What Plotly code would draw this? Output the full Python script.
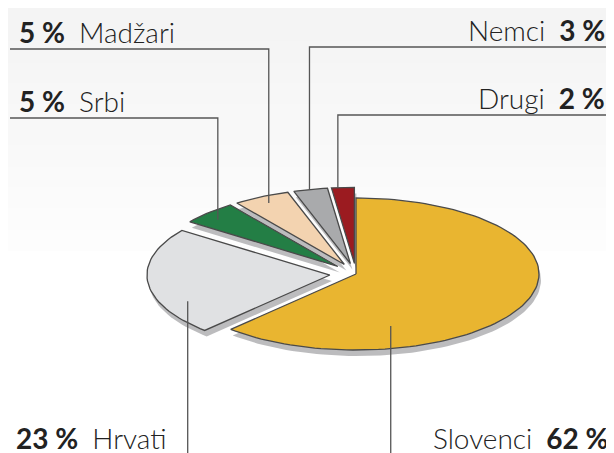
import math
import plotly.graph_objects as go

# ---- data ----
labels = ["Slovenci", "Hrvati", "Srbi", "Madžari", "Nemci", "Drugi"]
values = [62, 23, 5, 5, 3, 2]
colors = ["#E9B530", "#E0E1E3", "#237E45", "#F3D3B0", "#A9AAAC", "#9B1B20"]

# ---- style / layout params ----
W, H = 614, 453
OFF = 8  # page body margin compensation
CX, CY, RX, RY = 356, 274, 183, 76
explode = [0.0, 0.143, 0.14, 0.14, 0.14, 0.14]
label_side = ["right", "left", "left", "left", "right", "right"]
label_line_y = [None, None, 118, 49, 47, 115]
leader_ang_frac = [0.737, 0.277, 0.40, 0.50, 0.47, 0.28]
leader_r = [0.71, 0.85, 0.90, 0.91, 1.0, 1.0]
FONT = "Lato"
FS = 28

total = sum(values)
fig = go.Figure()

# background gradient bands
n_bands = 12
for i in range(n_bands):
    g = int(244 + (253 - 244) * i / (n_bands - 1))
    fig.add_shape(type="rect", x0=0, x1=W, y0=i * 250 / n_bands, y1=(i + 1) * 250 / n_bands + 1,
                  fillcolor=f"rgb({g},{g},{g})", line_width=0, layer="below")

def pt(cx, cy, a_deg, r=1.0):
    a = math.radians(a_deg)
    return cx + RX * r * math.sin(a), cy - RY * r * math.cos(a)

slices = []
start = 0.0
for lab, v, e in zip(labels, values, explode):
    span = 360.0 * v / total
    mid = start + span / 2
    ox = RX * e * math.sin(math.radians(mid))
    oy = -RY * e * math.cos(math.radians(mid))
    cx, cy = CX + ox, CY + oy
    n = max(8, int(span / 2))
    xs, ys = [cx], [cy]
    for k in range(n + 1):
        x, y = pt(cx, cy, start + span * k / n)
        xs.append(x); ys.append(y)
    xs.append(cx); ys.append(cy)
    slices.append((xs, ys, cx, cy, start, span))
    start += span

# shadows
for xs, ys, *_ in slices:
    fig.add_trace(go.Scatter(x=[x + 2 for x in xs], y=[y + 6 for y in ys], mode="lines",
                             fill="toself", fillcolor="rgba(160,160,162,0.7)",
                             line=dict(width=0), hoverinfo="skip", showlegend=False))
# slices
for (xs, ys, *_), c, lab in zip(slices, colors, labels):
    fig.add_trace(go.Scatter(x=xs, y=ys, mode="lines", fill="toself", fillcolor=c,
                             line=dict(color="#4a4a4a", width=1.3), name=lab,
                             hoverinfo="skip", showlegend=False))

# leaders and labels
for i, (xs, ys, cx, cy, st, span) in enumerate(slices):
    ax, ay = pt(cx, cy, st + span * leader_ang_frac[i], leader_r[i])
    pct = f"<b>{values[i]}\u00a0%</b>"
    name = labels[i]
    side = label_side[i]
    ly = label_line_y[i]
    if ly is None:
        path = f"M{ax},{ay} L{ax},{H}"
        if side == "left":
            text, tx, xa = f"{pct}\u2002{name}", 14, "left"
        else:
            text, tx, xa = f"{name}\u2002{pct}", W - 3, "right"
        ty = 438
    else:
        if side == "left":
            path = f"M{ax},{ay} L{ax},{ly} L10,{ly}"
            text, tx, xa = f"{pct}\u2002{name}", 17, "left"
        else:
            path = f"M{ax},{ay} L{ax},{ly} L{W},{ly}"
            text, tx, xa = f"{name}\u2002{pct}", W - 7, "right"
        ty = ly - 17
    fig.add_shape(type="path", path=path, line=dict(color="#555555", width=1.3))
    fig.add_annotation(x=tx, y=ty, text=text, xanchor=xa, yanchor="middle", showarrow=False,
                       font=dict(family=FONT, size=FS, color="#222222", weight=300))

fig.update_xaxes(range=[OFF, W], visible=False, fixedrange=True)
fig.update_yaxes(range=[H, OFF], visible=False, fixedrange=True)
fig.update_layout(width=W - OFF, height=H - OFF, margin=dict(l=0, r=0, t=0, b=0),
                  paper_bgcolor="white", plot_bgcolor="rgba(0,0,0,0)", showlegend=False)
fig.write_html("out.html")
